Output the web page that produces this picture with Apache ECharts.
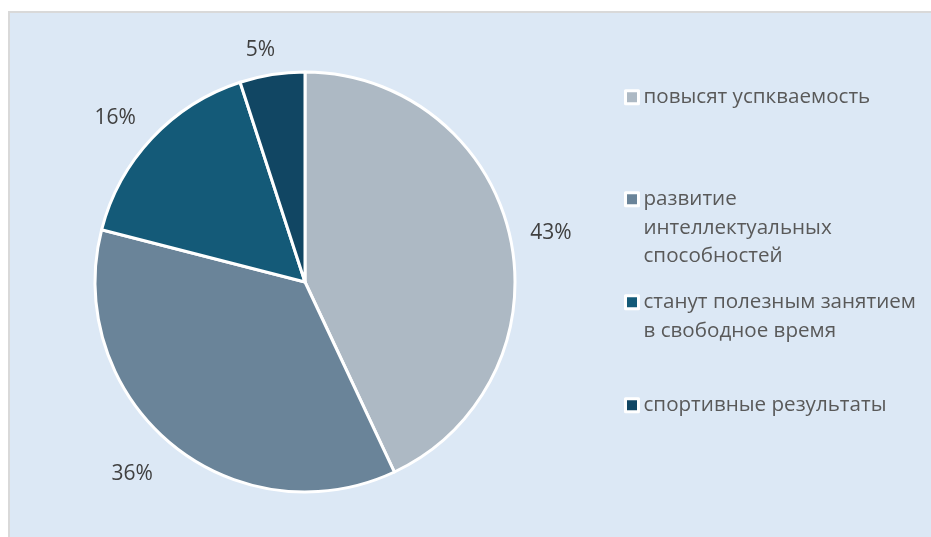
<!DOCTYPE html>
<html>
<head>
<meta charset="utf-8">
<script src="https://cdn.jsdelivr.net/npm/echarts@6/dist/echarts.min.js"></script>
<style>
html,body{margin:0;padding:0;background:#fff;width:931px;height:537px;overflow:hidden;}
#box{position:absolute;left:8px;top:11px;width:940px;height:540px;background:#dce8f5;border-left:2px solid #d9d9d9;border-top:2px solid #d9d9d9;box-sizing:border-box;}
#chart{position:absolute;left:0;top:0;width:931px;height:537px;}
</style>
</head>
<body>
<div id="box"></div>
<div id="chart"></div>
<script>
const categories = ['повысят успкваемость', 'развитие интеллектуальных способностей', 'станут полезным занятием в свободное время', 'спортивные результаты'];
const legendLabels = ['повысят успкваемость', 'развитие\nинтеллектуальных\nспособностей', 'станут полезным занятием\nв свободное время', 'спортивные результаты'];
const values = [43, 36, 16, 5];
const colors = ['#adb9c4', '#6a8499', '#145a78', '#114663'];

// small label nudges to mimic the original label placement
const labelNudge = [[-1, 6.5], [-11.5, -3], [-5.5, 9.5], [-5, 18]];
const legendTops = [83, 185, 288, 391];
const LH = 28.5;
const ICON = 13;

const seriesData = categories.map((c, i) => ({ name: c, value: values[i], itemStyle: { color: colors[i] } }));
const labelData = categories.map((c, i) => ({ name: c, value: values[i], label: { offset: labelNudge[i] } }));

const chart = echarts.init(document.getElementById('chart'));
chart.setOption({
  backgroundColor: 'transparent',
  animation: false,
  legend: categories.map((c, i) => {
    const lines = legendLabels[i].split('\n').length;
    const h = ICON + (lines - 1) * LH;
    return {
      data: [c],
      left: 624,
      top: legendTops[i],
      padding: 0,
      itemWidth: ICON,
      itemHeight: h,
      selectedMode: false,
      icon: 'path://M0,0L' + ICON + ',0L' + ICON + ',' + ICON + 'L0,' + ICON + 'ZM0,' + h,
      itemStyle: { borderColor: '#ffffff', borderWidth: 3 },
      formatter: () => legendLabels[i],
      textStyle: {
        fontFamily: 'Open Sans',
        fontSize: 20.6,
        color: '#595959',
        lineHeight: LH
      }
    };
  }),
  series: [
    {
      type: 'pie',
      center: [305, 282],
      radius: [0, 210],
      startAngle: 90,
      clockwise: true,
      silent: true,
      label: { show: false },
      labelLine: { show: false },
      itemStyle: { borderColor: '#ffffff', borderWidth: 3 },
      data: seriesData
    },
    {
      type: 'pie',
      center: [305, 282],
      radius: [212, 288],
      startAngle: 90,
      clockwise: true,
      silent: true,
      itemStyle: { color: 'rgba(0,0,0,0)' },
      label: {
        show: true,
        position: 'inside',
        formatter: '{c}%',
        fontFamily: 'Open Sans',
        fontSize: 21,
        color: '#404040'
      },
      labelLine: { show: false },
      data: labelData
    }
  ]
});
</script>
</body>
</html>
